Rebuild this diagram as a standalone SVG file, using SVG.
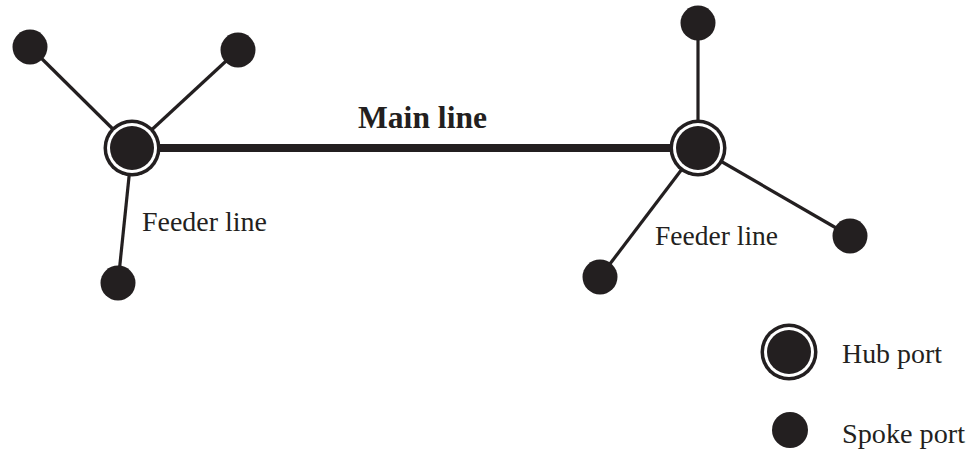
<svg xmlns="http://www.w3.org/2000/svg" width="979" height="450" viewBox="0 0 979 450">
<style>
.bg{fill:#ffffff}
.feeder{stroke:#231f20;stroke-width:3.2;fill:none}
.main{stroke:#231f20;stroke-width:8;fill:none}
.spoke{fill:#231f20}
.hubo{fill:#231f20}
.hubg{fill:#ffffff}
.hubi{fill:#231f20}
text{font-family:"Liberation Serif","Times New Roman",serif;fill:#231f20;font-size:27px}
.b{font-weight:bold;font-size:31px}
</style>
<rect class="bg" width="979" height="450"/>
<g id="connectors">
<line class="main" x1="132" y1="148" x2="698" y2="148"/>
<line class="feeder" x1="30" y1="47" x2="132" y2="148"/>
<line class="feeder" x1="238" y1="50" x2="132" y2="148"/>
<line class="feeder" x1="118" y1="283" x2="132" y2="148"/>
<line class="feeder" x1="698" y1="23" x2="698" y2="148"/>
<line class="feeder" x1="850" y1="236" x2="698" y2="148"/>
<line class="feeder" x1="600" y1="277" x2="698" y2="148"/>
</g>
<g id="hub-left">
<circle class="hubo" cx="132" cy="148" r="28.5"/>
<circle class="hubg" cx="132" cy="148" r="25"/>
<circle class="hubi" cx="132" cy="148" r="22"/>
</g>
<g id="hub-right">
<circle class="hubo" cx="698" cy="148" r="28.5"/>
<circle class="hubg" cx="698" cy="148" r="25"/>
<circle class="hubi" cx="698" cy="148" r="22"/>
</g>
<g id="spoke-l1"><circle class="spoke" cx="30" cy="47" r="17.5"/></g>
<g id="spoke-l2"><circle class="spoke" cx="238" cy="50" r="17.5"/></g>
<g id="spoke-l3"><circle class="spoke" cx="118" cy="283" r="17.5"/></g>
<g id="spoke-r1"><circle class="spoke" cx="698" cy="23" r="17.5"/></g>
<g id="spoke-r2"><circle class="spoke" cx="850" cy="236" r="17.5"/></g>
<g id="spoke-r3"><circle class="spoke" cx="600" cy="277" r="17.5"/></g>
<g id="labels">
<text class="b" x="358" y="128" textLength="129" lengthAdjust="spacingAndGlyphs">Main line</text>
<text x="142" y="231" textLength="125" lengthAdjust="spacingAndGlyphs">Feeder line</text>
<text x="655" y="245" textLength="123" lengthAdjust="spacingAndGlyphs">Feeder line</text>
</g>
<g id="legend-hub">
<circle class="hubo" cx="789" cy="352" r="28.5"/>
<circle class="hubg" cx="789" cy="352" r="25"/>
<circle class="hubi" cx="789" cy="352" r="22"/>
<text x="842" y="363" textLength="100" lengthAdjust="spacingAndGlyphs">Hub port</text>
</g>
<g id="legend-spoke">
<circle class="spoke" cx="790" cy="430" r="18"/>
<text x="842" y="443" textLength="123" lengthAdjust="spacingAndGlyphs">Spoke port</text>
</g>
</svg>
